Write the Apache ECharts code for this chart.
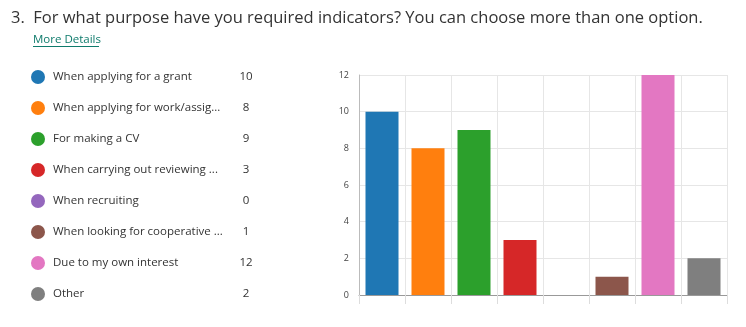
<!DOCTYPE html>
<html>
<head>
<meta charset="utf-8">
<script src="https://cdn.jsdelivr.net/npm/echarts@6/dist/echarts.min.js"></script>
<style>
  html, body { margin: 0; padding: 0; background: #fff; }
  #chart { width: 746px; height: 327px; }
</style>
</head>
<body>
<div id="chart"></div>
<script>
// Survey question and answer options
const questionTitle = '3.  For what purpose have you required indicators? You can choose more than one option.';
const detailsLink = 'More Details';
const categories = [
  'When applying for a grant',
  'When applying for work/assig...',
  'For making a CV',
  'When carrying out reviewing ...',
  'When recruiting',
  'When looking for cooperative ...',
  'Due to my own interest',
  'Other'
];
const counts = [10, 8, 9, 3, 0, 1, 12, 2];
const palette = ['#1f77b4', '#ff7f0e', '#2ca02c', '#d62728', '#9467bd', '#8c564b', '#e377c2', '#7f7f7f'];
const yTicks = { min: 0, max: 12, interval: 2 };

const font = '"Open Sans", "Noto Sans", sans-serif';
const chart = echarts.init(document.getElementById('chart'), null, { renderer: 'canvas' });

// one series per option so each gets its own legend entry; bars overlap in their own slot
const series = categories.map((name, i) => ({
  name: name,
  type: 'bar',
  barWidth: 33,
  barGap: '-100%',
  itemStyle: { color: palette[i] },
  data: counts.map((v, j) => (j === i ? v : null)),
  emphasis: { disabled: true }
}));

const countByName = {};
categories.forEach((c, i) => { countByName[c] = counts[i]; });

chart.setOption({
  animation: false,
  textStyle: { fontFamily: font },
  title: {
    text: questionTitle,
    left: 6,
    top: 5,
    textStyle: { fontSize: 16.5, fontWeight: 'normal', color: '#333', fontFamily: font }
  },
  graphic: [
    {
      type: 'text',
      left: 33,
      top: 34,
      style: { text: detailsLink, fontSize: 11.5, fill: '#0f7b6c', fontFamily: font }
    },
    {
      type: 'line',
      shape: { x1: 33, y1: 46.5, x2: 99, y2: 46.5 },
      style: { stroke: '#0f7b6c', lineWidth: 1 }
    }
  ],
  legend: {
    orient: 'vertical',
    left: 31,
    top: 70,
    padding: 0,
    icon: 'circle',
    itemWidth: 14,
    itemHeight: 14,
    itemGap: 17,
    selectedMode: false,
    formatter: name => `{n|${name}}{v|${countByName[name]}}`,
    textStyle: {
      color: '#333',
      fontFamily: font,
      rich: {
        n: { width: 183, fontSize: 11.5, color: '#333', padding: [0, 0, 0, 3], fontFamily: font },
        v: { width: 20, align: 'center', fontSize: 11.5, color: '#333', fontFamily: font }
      }
    }
  },
  grid: { left: 359, top: 75, right: 19, bottom: 32, containLabel: false },
  xAxis: {
    type: 'category',
    data: categories,
    axisLine: { lineStyle: { color: '#999' } },
    axisTick: { show: true, length: 9, interval: 0, lineStyle: { color: '#ddd' } },
    axisLabel: { show: false },
    splitLine: { show: true, interval: 0, lineStyle: { color: '#e6e6e6' } }
  },
  yAxis: {
    type: 'value',
    min: yTicks.min,
    max: yTicks.max,
    interval: yTicks.interval,
    axisLine: { show: true, lineStyle: { color: '#bbb' } },
    axisTick: { show: false },
    axisLabel: { fontSize: 9, color: '#444', margin: 10, fontFamily: font },
    splitLine: { lineStyle: { color: '#e6e6e6' } }
  },
  series: series
});
</script>
</body>
</html>
